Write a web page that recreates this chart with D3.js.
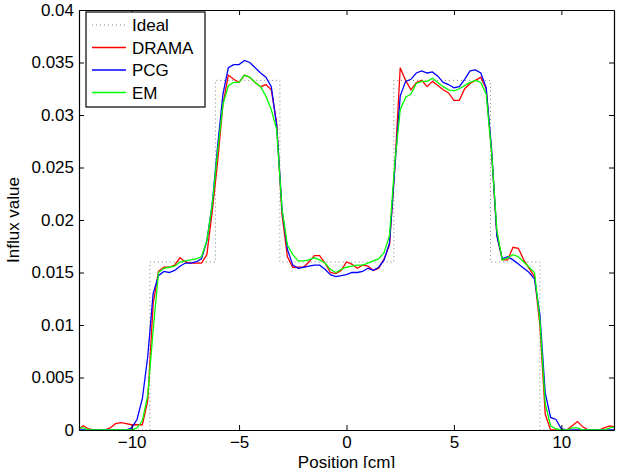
<!DOCTYPE html>
<html>
<head>
<meta charset="utf-8">
<script src="https://cdn.jsdelivr.net/npm/d3@7"></script>
<style>
  html, body { margin: 0; padding: 0; background: #fff; }
  svg text { font-family: "Liberation Sans", Arial, Helvetica, sans-serif; }
</style>
</head>
<body>
<div id="chart"></div>
<script>
// sample positions in cm (0.25 cm grid)
var positions = d3.range(-12.5, 12.5001, 0.25);

var drama = [
  0, 0.0004, 0.0001, 0, 0, 0, 0.0002, 0.0006, 0.0007, 0.0006,
  0.0005, 0.0005, 0.0005, 0.0028, 0.0120, 0.0151, 0.0155, 0.0155, 0.0157, 0.0164,
  0.0160, 0.0159, 0.0159, 0.0159, 0.0167, 0.0208, 0.0255, 0.0310, 0.0338, 0.0334,
  0.0331, 0.0338, 0.0336, 0.0331, 0.0327, 0.0329, 0.0324, 0.0292, 0.0205, 0.0165,
  0.0155, 0.0155, 0.0155, 0.0160, 0.0166, 0.0166, 0.0159, 0.0150, 0.0149, 0.0152,
  0.0160, 0.0158, 0.0154, 0.0157, 0.0156, 0.0152, 0.0154, 0.0163, 0.0176, 0.0250,
  0.0345, 0.0333, 0.0324, 0.0331, 0.0333, 0.0327, 0.0332, 0.0328, 0.0324, 0.0321,
  0.0314, 0.0314, 0.0325, 0.0330, 0.0333, 0.0336, 0.0325, 0.0265, 0.0185, 0.0162,
  0.0162, 0.0174, 0.0173, 0.0162, 0.0154, 0.0146, 0.0100, 0.0015, 0, 0,
  0, 0, 0.0004, 0.0008, 0.0003, 0, 0, 0, 0.0002, 0.0004,
  0.0003
];

var pcg = [
  0, 0, 0, 0, 0, 0, 0, 0, 0, 0,
  0.0002, 0.0010, 0.0030, 0.0070, 0.0130, 0.0147, 0.0151, 0.0150, 0.0152, 0.0156,
  0.0159, 0.0159, 0.0160, 0.0163, 0.0180, 0.0215, 0.0270, 0.0320, 0.0345, 0.0348,
  0.0348, 0.0352, 0.0350, 0.0345, 0.0340, 0.0336, 0.0327, 0.0290, 0.0210, 0.0172,
  0.0157, 0.0154, 0.0155, 0.0156, 0.0157, 0.0157, 0.0153, 0.0148, 0.0146, 0.0147,
  0.0148, 0.0150, 0.0150, 0.0151, 0.0154, 0.0152, 0.0155, 0.0162, 0.0178, 0.0250,
  0.0318, 0.0332, 0.0334, 0.0340, 0.0342, 0.0340, 0.0341, 0.0337, 0.0331, 0.0329,
  0.0326, 0.0327, 0.0334, 0.0342, 0.0343, 0.0340, 0.0326, 0.0268, 0.0185, 0.0163,
  0.0165, 0.0162, 0.0158, 0.0154, 0.0150, 0.0144, 0.0110, 0.0035, 0.0012, 0.0010,
  0.0001, 0, 0, 0, 0, 0, 0, 0, 0, 0,
  0
];

var em = [
  0.0002, 0.0002, 0, 0, 0, 0, 0, 0, 0, 0,
  0, 0.0002, 0.0009, 0.0033, 0.0095, 0.0150, 0.0154, 0.0155, 0.0156, 0.0160,
  0.0161, 0.0162, 0.0163, 0.0165, 0.0180, 0.0215, 0.0265, 0.0310, 0.0328, 0.0331,
  0.0331, 0.0338, 0.0336, 0.0331, 0.0327, 0.0318, 0.0305, 0.0286, 0.0210, 0.0176,
  0.0167, 0.0161, 0.0161, 0.0162, 0.0164, 0.0162, 0.0159, 0.0153, 0.0150, 0.0153,
  0.0155, 0.0156, 0.0157, 0.0157, 0.0159, 0.0161, 0.0163, 0.0169, 0.0185, 0.0255,
  0.0305, 0.0317, 0.0320, 0.0330, 0.0332, 0.0332, 0.0335, 0.0331, 0.0327, 0.0324,
  0.0323, 0.0325, 0.0328, 0.0331, 0.0333, 0.0331, 0.0320, 0.0265, 0.0190, 0.0162,
  0.0164, 0.0167, 0.0165, 0.0160, 0.0155, 0.0150, 0.0105, 0.0025, 0.0004, 0.0001,
  0, 0, 0.0002, 0.0002, 0, 0, 0, 0, 0, 0.0002,
  0.0003
];

// ideal profile as step corners
var idealX = [-12.5, -9.15, -9.15, -6.1, -6.1, -3.1, -3.1, 2.2, 2.2, 6.7, 6.7, 9.0, 9.0, 12.5];
var idealY = [0, 0, 0.016, 0.016, 0.0333, 0.0333, 0.016, 0.016, 0.0333, 0.0333, 0.016, 0.016, 0, 0];

var xTicks = [-10, -5, 0, 5, 10];
var yTicks = [0, 0.005, 0.01, 0.015, 0.02, 0.025, 0.03, 0.035, 0.04];

var series = [
  { name: "Ideal", xs: idealX, ys: idealY, color: "#808080", dash: "1,3" },
  { name: "DRAMA", xs: positions, ys: drama, color: "#ff0000" },
  { name: "PCG", xs: positions, ys: pcg, color: "#0000ff" },
  { name: "EM", xs: positions, ys: em, color: "#00ff00" }
];

var W = 620, H = 468;
var m = { top: 10, right: 6, bottom: 38, left: 79 };
var iw = W - m.left - m.right, ih = H - m.top - m.bottom;
var fs = 17;

var x = d3.scaleLinear().domain([-12.45, 12.45]).range([0, iw]);
var y = d3.scaleLinear().domain([0, 0.04]).range([ih, 0]);

var svg = d3.select('#chart').append('svg').attr('width', W).attr('height', H);
var g = svg.append('g').attr('transform', 'translate(' + m.left + ',' + m.top + ')');

g.append('clipPath').attr('id', 'clip').append('rect').attr('width', iw).attr('height', ih);

var line = d3.line().x(function(d){ return x(d[0]); }).y(function(d){ return y(d[1]); });

g.append('g').attr('clip-path', 'url(#clip)').selectAll('path').data(series).join('path')
  .attr('d', function(s){ return line(s.xs.map(function(v, i){ return [v, s.ys[i]]; })); })
  .attr('fill', 'none')
  .attr('stroke', function(s){ return s.color; })
  .attr('stroke-width', function(s){ return s.dash ? 1 : 1.3; })
  .attr('stroke-dasharray', function(s){ return s.dash || null; });

// axes, MATLAB style: inward ticks on all four sides
var fmtY = function(v){ return String(+v.toFixed(3)); };
var tl = 5;
g.append('g').attr('transform', 'translate(0,' + ih + ')')
  .call(d3.axisBottom(x).tickValues(xTicks).tickSizeInner(-tl).tickSizeOuter(0).tickPadding(6));
g.append('g')
  .call(d3.axisTop(x).tickValues(xTicks).tickSizeInner(-tl).tickSizeOuter(0).tickFormat(''));
g.append('g')
  .call(d3.axisLeft(y).tickValues(yTicks).tickSizeInner(-tl).tickSizeOuter(0).tickPadding(5).tickFormat(fmtY));
g.append('g').attr('transform', 'translate(' + iw + ',0)')
  .call(d3.axisRight(y).tickValues(yTicks).tickSizeInner(-tl).tickSizeOuter(0).tickFormat(''));

g.selectAll('.domain').attr('stroke', '#000').attr('stroke-width', 1.2);
g.selectAll('.tick line').attr('stroke', '#000');
g.selectAll('.tick text').attr('font-size', fs).attr('fill', '#000');

svg.append('text').attr('x', m.left + iw / 2).attr('y', 468)
  .attr('text-anchor', 'middle').attr('font-size', fs).text('Position [cm]');
svg.append('text').attr('transform', 'translate(19,' + (m.top + ih / 2) + ') rotate(-90)')
  .attr('text-anchor', 'middle').attr('font-size', fs).text('Influx value');

// legend
var lg = g.append('g').attr('transform', 'translate(7,2)');
lg.append('rect').attr('width', 119).attr('height', 95)
  .attr('fill', '#fff').attr('stroke', '#000').attr('stroke-width', 1.2);
var item = lg.selectAll('.item').data(series).join('g')
  .attr('transform', function(d, i){ return 'translate(0,' + (13 + i * 22.5) + ')'; });
item.append('line').attr('x1', 6).attr('x2', 40).attr('y1', 0).attr('y2', 0)
  .attr('stroke', function(d){ return d.color; })
  .attr('stroke-width', function(d){ return d.dash ? 1 : 1.3; })
  .attr('stroke-dasharray', function(d){ return d.dash || null; });
item.append('text').attr('x', 46).attr('y', 6).attr('font-size', fs).text(function(d){ return d.name; });
</script>
</body>
</html>
